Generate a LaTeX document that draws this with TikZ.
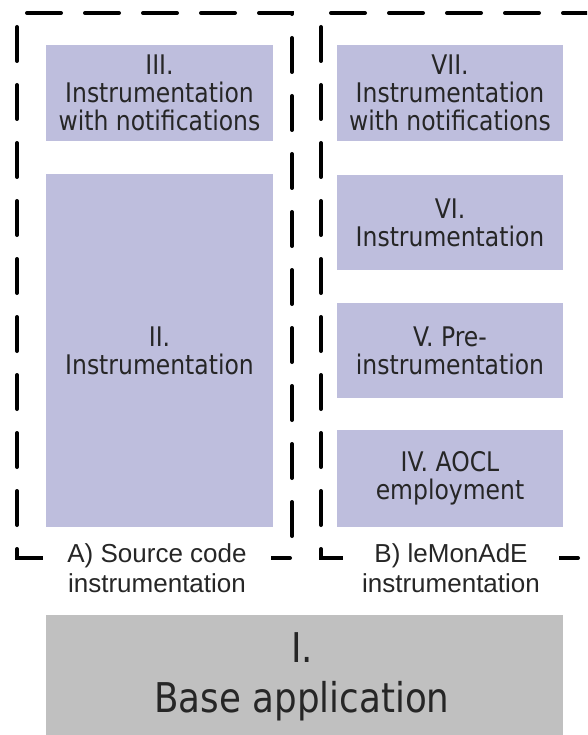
\documentclass[tikz,border=0pt]{standalone}
\usepackage{fontspec}
\newfontfamily\boxfont[FakeStretch=0.87]{DejaVu Sans}
\newfontfamily\labfont{Liberation Sans}
\definecolor{lav}{RGB}{190,190,221}
\definecolor{basegray}{RGB}{192,192,192}
\definecolor{txt}{RGB}{38,38,38}
\begin{document}
\begin{tikzpicture}[x=1pt,y=-1pt,
  stagebox/.style={fill=lav, inner sep=0pt, align=center, text=txt,
    font={\boxfont\fontsize{27}{28}\selectfont}},
  frame/.style={line width=4pt, line cap=round, dash pattern=on 34pt off 24pt},
  framelabel/.style={fill=white, inner xsep=0pt, inner ysep=2pt, align=center, text=txt,
    font={\labfont\fontsize{26}{30}\selectfont}}]
\useasboundingbox (0,0) rectangle (587,735);
\clip (0,0) rectangle (587,735);
\fill[white] (0,0) rectangle (587,735);
% dashed frames
\draw[frame] (42,558) -- (17,558) -- (17,13) -- (292,13) -- (292,558) -- (42,558);
\draw[frame] (578,558) -- (321,558) -- (321,13) -- (605,13);
% left column
\node[stagebox, minimum width=227pt, minimum height=96pt] (s3) at (159.5,93) {III.\\Instrumentation\\with notifications};
\node[stagebox, minimum width=227pt, minimum height=353pt] (s2) at (159.5,350.5) {II.\\Instrumentation};
% right column
\node[stagebox, minimum width=226pt, minimum height=96pt] (s7) at (450,93) {VII.\\Instrumentation\\with notifications};
\node[stagebox, minimum width=226pt, minimum height=95pt] (s6) at (450,222.5) {VI.\\Instrumentation};
\node[stagebox, minimum width=226pt, minimum height=95pt] (s5) at (450,350.5) {V. Pre-\\instrumentation};
\node[stagebox, minimum width=226pt, minimum height=97pt] (s4) at (450,478.5) {IV. AOCL\\employment};
% frame labels
\node[framelabel, minimum width=228pt] (la) at (157,568) {A) Source code\\instrumentation};
\node[framelabel, minimum width=216pt] (lb) at (451,568) {B) leMonAdE\\instrumentation};
% base
\node[fill=basegray, inner sep=0pt, minimum width=517pt, minimum height=140pt, anchor=north west] (s1) at (46,615) {};
\node[align=center, text=txt, font={\boxfont\fontsize{41}{50}\selectfont}] (s1t) at (302,677) {I.\\Base application};
\end{tikzpicture}
\end{document}
